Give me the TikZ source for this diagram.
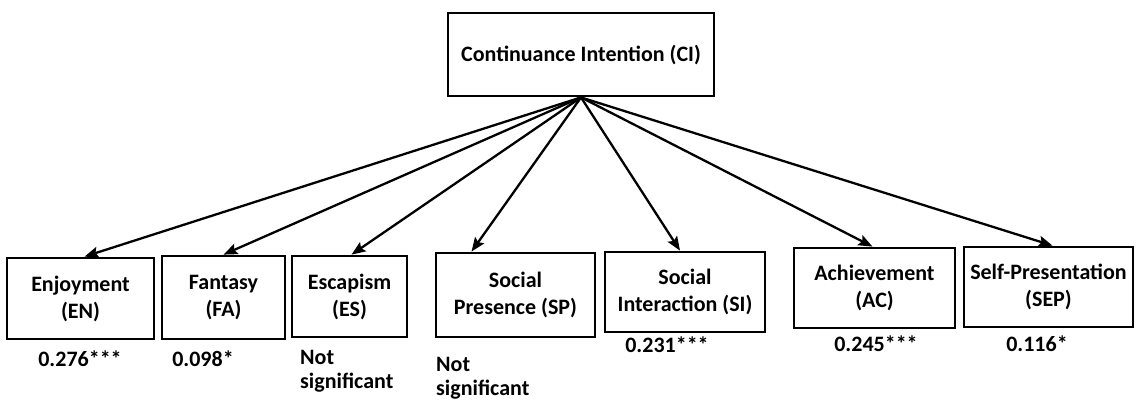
\documentclass[tikz,border=0pt]{standalone}
\usepackage{fontspec}
\setmainfont{Carlito}
\usetikzlibrary{arrows.meta}
\begin{document}
\begin{tikzpicture}[x=1pt,y=-1pt,
  every node/.style={font=\fontsize{22}{27}\selectfont\bfseries},
  box/.style={draw, line width=2.8pt, inner sep=0pt, align=center},
  val/.style={inner sep=0pt, anchor=base},
  note/.style={inner sep=0pt, anchor=north west, align=left,
    font=\fontsize{22}{24}\selectfont\bfseries},
  link/.style={line width=2.3pt, -{Stealth[length=14pt,width=11pt,inset=2.5pt]}}]
\useasboundingbox (0,0) rectangle (1138,400);

% dependent construct
\node[box, minimum width=266pt, minimum height=83pt] (CI) at (581,54.5) {Continuance Intention (CI)};

% motivation constructs
\node[box, minimum width=147pt, minimum height=81pt] (EN) at (80.5,298.5) {Enjoyment\\(EN)};
\node[box, minimum width=123pt, minimum height=83pt] (FA) at (223.5,297.5) {Fantasy\\(FA)};
\node[box, minimum width=115pt, minimum height=81pt] (ES) at (349.5,296.5) {Escapism\\(ES)};
\node[box, minimum width=159pt, minimum height=84pt] (SP) at (515.5,295) {Social\\Presence (SP)};
\node[box, minimum width=160pt, minimum height=80pt] (SI) at (685,292) {Social\\Interaction (SI)};
\node[box, minimum width=161pt, minimum height=80pt] (AC) at (874.5,288) {Achievement\\(AC)};
\node[box, minimum width=169pt, minimum height=80pt] (SEP) at (1048.5,287) {Self-Presentation\\(SEP)};

% paths
\draw[link] (CI.south) -- ([xshift=4pt]EN.north);
\draw[link] (CI.south) -- (FA.north);
\draw[link] (CI.south) -- ([xshift=2pt]ES.north);
\draw[link] (CI.south) -- ([xshift=-44pt]SP.north);
\draw[link] (CI.south) -- ([xshift=-5pt]SI.north);
\draw[link] (CI.south) -- ([xshift=-2pt]AC.north);
\draw[link] (CI.south) -- ([xshift=4pt]SEP.north);

% path coefficients
\node[val] (vEN) at (80,366) {0.276***};
\node[val] (vFA) at (203,366) {0.098*};
\node[note] (vES) at (300,350) {Not\\significant};
\node[note] (vSP) at (436,357) {Not\\significant};
\node[val] (vSI) at (667,352) {0.231***};
\node[val] (vAC) at (876,351) {0.245***};
\node[val] (vSEP) at (1037,351) {0.116*};
\end{tikzpicture}
\end{document}
